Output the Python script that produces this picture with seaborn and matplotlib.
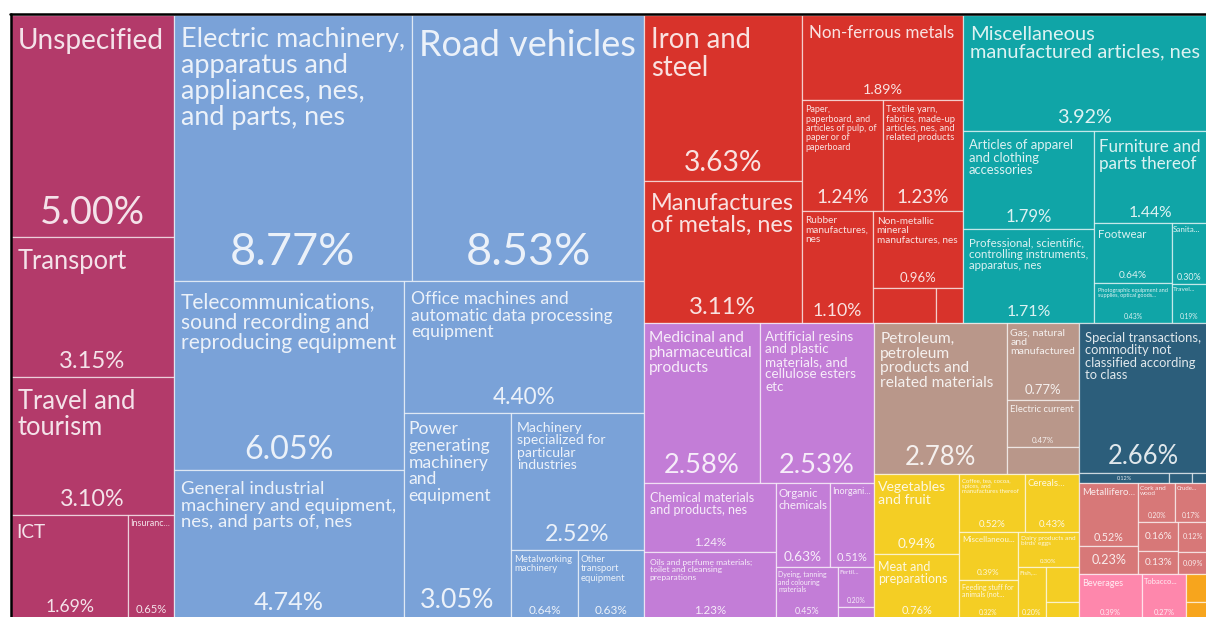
# plot.py
# treemap of export shares by product group

import numpy as np
import seaborn as sns
import matplotlib
matplotlib.use('Agg')
import matplotlib.pyplot as plt
from matplotlib.patches import Rectangle
from matplotlib.font_manager import FontProperties
from functools import lru_cache

# ---- data: share of total exports (%) ----
# names as they appear in the chart; '' = only the share is shown, None = no label at all
services_names = ['Unspecified', 'Transport', 'Travel and tourism', 'ICT', 'Insuranc...']
services_values = [5.00, 3.15, 3.10, 1.69, 0.65]

machinery_names = ['Electric machinery, apparatus and appliances, nes, and parts, nes',
                   'Road vehicles',
                   'Telecommunications, sound recording and reproducing equipment',
                   'General industrial machinery and equipment, nes, and parts of, nes',
                   'Office machines and automatic data processing equipment',
                   'Power generating machinery and equipment',
                   'Machinery specialized for particular industries',
                   'Metalworking machinery',
                   'Other transport equipment']
machinery_values = [8.77, 8.53, 6.05, 4.74, 4.40, 3.05, 2.52, 0.64, 0.63]

manufactured_names = ['Iron and steel', 'Manufactures of metals, nes', 'Non-ferrous metals',
                      'Paper, paperboard, and articles of pulp, of paper or of paperboard',
                      'Textile yarn, fabrics, made-up articles, nes, and related products',
                      'Rubber manufactures, nes', 'Non-metallic mineral manufactures, nes',
                      None, None]
manufactured_values = [3.63, 3.11, 1.89, 1.24, 1.23, 1.10, 0.96, 0.31, 0.13]

misc_names = ['Miscellaneous manufactured articles, nes',
              'Articles of apparel and clothing accessories',
              'Professional, scientific, controlling instruments, apparatus, nes',
              'Furniture and parts thereof', 'Footwear',
              'Photographic equipment and supplies, optical goods...',
              'Sanita...', 'Travel...']
misc_values = [3.92, 1.79, 1.71, 1.44, 0.64, 0.43, 0.30, 0.19]

chemicals_names = ['Medicinal and pharmaceutical products',
                   'Artificial resins and plastic materials, and cellulose esters etc',
                   'Chemical materials and products, nes',
                   'Oils and perfume materials; toilet and cleansing preparations',
                   'Organic chemicals', 'Inorgani...',
                   'Dyeing, tanning and colouring materials', 'Fertil...', None]
chemicals_values = [2.58, 2.53, 1.24, 1.23, 0.63, 0.51, 0.45, 0.20, 0.06]

fuels_names = ['Petroleum, petroleum products and related materials',
               'Gas, natural and manufactured', 'Electric current', None]
fuels_values = [2.78, 0.77, 0.47, 0.27]

food_names = ['Vegetables and fruit', 'Meat and preparations',
              'Coffee, tea, cocoa, spices, and manufactures thereof', 'Cereals...',
              'Miscellaneou...', 'Feeding stuff for animals (not...',
              "Dairy products and birds' eggs", 'Fish,...', None, None]
food_values = [0.94, 0.76, 0.52, 0.43, 0.39, 0.32, 0.30, 0.20, 0.16, 0.08]

special_names = ['Special transactions, commodity not classified according to class', '', None, None]
special_values = [2.66, 0.12, 0.03, 0.02]

crude_names = ['Metallifero...', '', 'Cork and wood', 'Crude...', '', '', '', '']
crude_values = [0.52, 0.23, 0.20, 0.17, 0.16, 0.13, 0.12, 0.09]

beverages_names = ['Beverages', 'Tobacco...']
beverages_values = [0.39, 0.27]

oils_names = [None, None]
oils_values = [0.08, 0.05]

group_colors = ['#b33a6a', '#7aa2d8', '#d8332b', '#10a5a7', '#c37dd7', '#b9978a',
                '#f4ce24', '#2c5e7b', '#d77878', '#fe87ac', '#f7a51d']

groups = [(services_names, services_values), (machinery_names, machinery_values),
          (manufactured_names, manufactured_values), (misc_names, misc_values),
          (chemicals_names, chemicals_values), (fuels_names, fuels_values),
          (food_names, food_values), (special_names, special_values),
          (crude_names, crude_values), (beverages_names, beverages_values),
          (oils_names, oils_values)]


def squarify(values, x0, y0, x1, y1):
    # squarified treemap (same steps as d3.treemapSquarify with ratio 1), keeps input order
    rects = []
    total = float(sum(values))
    n = len(values)
    i0 = 0
    while i0 < n:
        dx, dy = x1 - x0, y1 - y0
        i1 = i0
        s = values[i1]
        i1 += 1
        vmin = vmax = s
        alpha = max(dy / dx, dx / dy) / total
        beta = s * s * alpha
        best = max(vmax / beta, beta / vmin)
        while i1 < n:
            v = values[i1]
            s2 = s + v
            mn, mx = min(vmin, v), max(vmax, v)
            beta = s2 * s2 * alpha
            r = max(mx / beta, beta / mn)
            if r > best:
                break
            s, vmin, vmax, best = s2, mn, mx, r
            i1 += 1
        row = values[i0:i1]
        if dx < dy:
            h = dy * s / total
            xx = x0
            for v in row:
                w = dx * v / s
                rects.append((xx, y0, w, h))
                xx += w
            y0 += h
        else:
            w = dx * s / total
            yy = y0
            for v in row:
                hh = dy * v / s
                rects.append((x0, yy, w, hh))
                yy += hh
            x0 += w
        total -= s
        i0 = i1
    return rects


sns.set_theme(style='white')
FONT = 'Lato'
plt.rcParams['font.family'] = [FONT, 'DejaVu Sans']

DPI = 100
FIG_W, FIG_H = 1206, 617
LEFT, TOP = 11, 15
W, H = 1196, 604

fig = plt.figure(figsize=(FIG_W / DPI, FIG_H / DPI), dpi=DPI)
fig.patch.set_facecolor('white')
ax = fig.add_axes([LEFT / FIG_W, (FIG_H - TOP - H) / FIG_H, W / FIG_W, H / FIG_H])
ax.set_xlim(0, W)
ax.set_ylim(H, 0)
ax.axis('off')

renderer = fig.canvas.get_renderer()


@lru_cache(maxsize=None)
def text_width(s, px):
    prop = FontProperties(family=FONT, size=px * 72 / DPI)
    w, _, _ = renderer.get_text_width_height_descent(s, prop, ismath=False)
    return w


def wrap(words, px, maxw):
    lines, cur = [], ''
    for wd in words:
        t = wd if not cur else cur + ' ' + wd
        if not cur or text_width(t, px) <= maxw:
            cur = t
        else:
            lines.append(cur)
            cur = wd
    lines.append(cur)
    return lines


def fit_name(name, w, h):
    pad = min(7.0, max(1.5, 0.045 * w))
    avail_w = w - 2 * pad
    avail_h = 0.55 * h - pad
    words = name.split()
    f = round(min(36.0, 0.17 * np.sqrt(w * h)) * 2) / 2
    while f >= 5:
        lines = wrap(words, f, avail_w)
        if max(text_width(l, f) for l in lines) <= avail_w and len(lines) * f * 1.22 <= avail_h:
            return lines, f, pad
        f -= 0.5
    return None


txt_color = (1, 1, 1, 0.86)
edge = (1, 1, 1, 0.6)

group_totals = [sum(v) for _, v in groups]
group_rects = squarify(group_totals, 0, 0, W, H)

for (names, values), (gx, gy, gw, gh), color in zip(groups, group_rects, group_colors):
    cells = squarify(values, gx, gy, gx + gw, gy + gh)
    for name, val, (x, y, w, h) in zip(names, values, cells):
        ax.add_patch(Rectangle((x, y), w, h, facecolor=color, edgecolor=edge, linewidth=0.9))
        if name is None:
            continue
        share = f'{val:.2f}%'
        if name:
            fitted = fit_name(name, w, h)
            if fitted:
                lines, f, pad = fitted
                ax.text(x + pad, y + pad + 0.2 * f, '\n'.join(lines), ha='left', va='top',
                        fontsize=f * 72 / DPI, color=txt_color, linespacing=1.05)
            fv = max(5.5, min(0.17 * h, 0.25 * w))
            while fv > 5 and text_width(share, round(fv * 2) / 2) > w - 3:
                fv -= 0.5
            ax.text(x + w / 2, y + h - (0.03 * h + 2 + 0.12 * fv), share, ha='center',
                    va='baseline', fontsize=fv * 72 / DPI, color=txt_color)
        else:
            fv = max(5.5, min(0.45 * h, 0.25 * w))
            ax.text(x + w / 2, y + h / 2, share, ha='center', va='center',
                    fontsize=fv * 72 / DPI, color=txt_color)

# black frame along the top and left edges
ax.plot([-1, W + 5], [-1.5, -1.5], color='black', linewidth=1.8, clip_on=False)
ax.plot([-0.5, -0.5], [-1.5, H + 5], color='black', linewidth=1.8, clip_on=False)

fig.savefig('out.png', dpi=DPI)
